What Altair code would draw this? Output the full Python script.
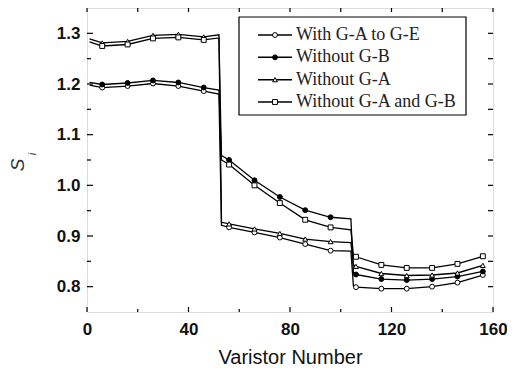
import altair as alt
import pandas as pd

# ---------------- data ----------------
series_names = ["With G-A to G-E", "Without G-B", "Without G-A", "Without G-A and G-B"]

x_points = [1, 6, 16, 26, 36, 46, 52,
            53, 56, 66, 76, 86, 96, 104,
            105, 106, 116, 126, 136, 146, 156]
marker_x = [6, 16, 26, 36, 46, 56, 66, 76, 86, 96, 106, 116, 126, 136, 146, 156]

with_all = [1.198, 1.193, 1.196, 1.201, 1.196, 1.186, 1.180,
            0.921, 0.917, 0.907, 0.897, 0.884, 0.871, 0.870,
            0.801, 0.799, 0.796, 0.796, 0.800, 0.808, 0.823]
without_gb = [1.203, 1.199, 1.202, 1.207, 1.203, 1.193, 1.188,
              1.059, 1.050, 1.010, 0.977, 0.951, 0.937, 0.934,
              0.826, 0.824, 0.815, 0.813, 0.815, 0.820, 0.830]
without_ga = [1.289, 1.281, 1.284, 1.296, 1.298, 1.293, 1.297,
              0.927, 0.924, 0.914, 0.905, 0.894, 0.889, 0.887,
              0.843, 0.840, 0.826, 0.822, 0.823, 0.827, 0.842]
without_ga_gb = [1.283, 1.275, 1.278, 1.290, 1.292, 1.287, 1.291,
                 1.050, 1.041, 1.000, 0.965, 0.932, 0.917, 0.912,
                 0.862, 0.859, 0.843, 0.837, 0.837, 0.845, 0.860]

x_ticks_major = [0, 40, 80, 120, 160]
x_ticks_minor = [20, 60, 100, 140]
y_ticks_major = [0.8, 0.9, 1.0, 1.1, 1.2, 1.3]
y_ticks_minor = [0.85, 0.95, 1.05, 1.15, 1.25]
y_ticks_right = [0.8, 0.85, 0.9, 0.95, 1.0, 1.05, 1.1, 1.15, 1.2, 1.25, 1.3]

shapes = ["circle", "circle", "triangle-up", "square"]
fills = ["white", "black", "white", "white"]

# ---------------- tables ----------------
rows = []
for name, vals in zip(series_names, [with_all, without_gb, without_ga, without_ga_gb]):
    for xv, yv in zip(x_points, vals):
        rows.append({"x": xv, "s": yv, "series": name, "marker": xv in marker_x})
df = pd.DataFrame(rows)

W, H = 406, 304
xscale = alt.Scale(domain=[0, 160], nice=False)
yscale = alt.Scale(domain=[0.75, 1.35], nice=False, zero=False)
shape_enc = alt.Shape("series:N", scale=alt.Scale(domain=series_names, range=shapes), legend=None)
fill_enc = alt.Fill("series:N", scale=alt.Scale(domain=series_names, range=fills), legend=None)

base = alt.Chart(df)
lines = base.mark_line(color="black", strokeWidth=1.3).encode(
    x=alt.X("x:Q", scale=xscale,
            axis=alt.Axis(values=x_ticks_major, ticks=False, domain=False, grid=False,
                          title="Varistor Number", titleFont="Liberation Sans",
                          titleFontSize=20, titleFontWeight="normal", titleColor="#111",
                          titlePadding=10, labelFont="Liberation Sans", labelFontSize=17,
                          labelFontWeight="bold", labelColor="#111", labelPadding=9,
                          labelFlush=False, labelOverlap=False)),
    y=alt.Y("s:Q", scale=yscale,
            axis=alt.Axis(values=y_ticks_major, format=".1f", ticks=False, domain=False,
                          grid=False, title=None, labelFont="Liberation Sans",
                          labelFontSize=17, labelFontWeight="bold", labelColor="#111",
                          labelPadding=7)),
    detail="series:N",
    order="x:Q",
)
points = base.transform_filter("datum.marker").mark_point(
    size=24, stroke="black", strokeWidth=1, opacity=1, filled=True
).encode(x="x:Q", y="s:Q", shape=shape_enc, fill=fill_enc)

def xtick_layer(vals, length, top):
    d = pd.DataFrame({"v": vals})
    if top:
        return alt.Chart(d).mark_rule(color="black", strokeWidth=1.2).encode(
            x="v:Q", y=alt.value(0), y2=alt.value(length))
    return alt.Chart(d).mark_rule(color="black", strokeWidth=1.2).encode(
        x="v:Q", y=alt.value(H), y2=alt.value(H - length))

def ytick_layer(vals, length, right):
    d = pd.DataFrame({"v": vals})
    if right:
        return alt.Chart(d).mark_rule(color="black", strokeWidth=1.2).encode(
            y="v:Q", x=alt.value(W), x2=alt.value(W - length))
    return alt.Chart(d).mark_rule(color="black", strokeWidth=1.2).encode(
        y="v:Q", x=alt.value(0), x2=alt.value(length))

ticks = [
    xtick_layer(x_ticks_major, 5, False), xtick_layer(x_ticks_minor, 3, False),
    xtick_layer(x_ticks_major + x_ticks_minor, 4, True),
    ytick_layer(y_ticks_major, 6, False), ytick_layer(y_ticks_minor, 4, False),
    ytick_layer(y_ticks_right, 5, True),
]

one = pd.DataFrame({"t": ["S"]})
s_title = alt.Chart(one).mark_text(angle=270, fontSize=19, fontStyle="italic",
                                   font="Liberation Sans", color="#333").encode(
    x=alt.value(-69), y=alt.value(157), text="t:N")
i_title = alt.Chart(pd.DataFrame({"t": ["i"]})).mark_text(
    angle=270, fontSize=11, fontStyle="italic", font="Liberation Sans", color="#333").encode(
    x=alt.value(-54), y=alt.value(146), text="t:N")

main = alt.layer(lines, points, *ticks, s_title, i_title)

# ---------------- legend ----------------
leg_df = pd.DataFrame({"series": series_names, "idx": list(range(len(series_names)))})
leg_y = alt.Y("idx:Q", scale=alt.Scale(domain=[0, 3], range=[27, 94]), axis=None)
box = alt.Chart(pd.DataFrame({"a": [0]})).mark_rect(
    fill="white", stroke="black", strokeWidth=1.2).encode(
    x=alt.value(152), x2=alt.value(379), y=alt.value(9), y2=alt.value(107))
leg_line = alt.Chart(leg_df).mark_rule(color="black", strokeWidth=1.5).encode(
    y=leg_y, x=alt.value(171), x2=alt.value(205))
leg_pt = alt.Chart(leg_df).mark_point(size=24, stroke="black", strokeWidth=1, opacity=1,
                                      filled=True).encode(
    y=leg_y, x=alt.value(188), shape=shape_enc, fill=fill_enc)
leg_txt = alt.Chart(leg_df).mark_text(align="left", baseline="middle", font="Liberation Serif",
                                      fontSize=18, color="#222").encode(
    y=leg_y, x=alt.value(209), text="series:N")
legend = alt.layer(box, leg_line, leg_pt, leg_txt)

chart = alt.layer(main, legend).resolve_scale(y="independent").properties(
    width=W, height=H,
    padding={"left": 79, "top": 0, "right": 14, "bottom": 55},
    autosize="none",
).configure_view(stroke="black", strokeWidth=1.5).configure(background="white")

chart.save("out.html", embed_options={"renderer": "svg", "actions": False})
